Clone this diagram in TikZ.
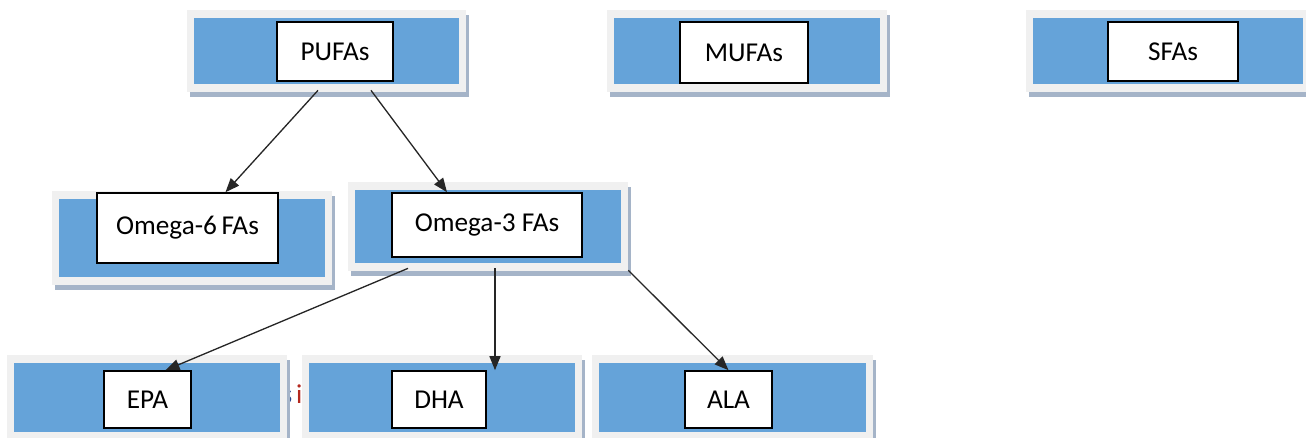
\documentclass[tikz,border=0pt]{standalone}
\usepackage{fontspec}
\setmainfont{Carlito}
\usepackage{tikz}
\usetikzlibrary{arrows.meta,calc,fit,shadows}
\definecolor{barblue}{RGB}{101,163,217}
\definecolor{framegray}{RGB}{240,240,240}
\definecolor{shadowgray}{RGB}{165,180,200}
\definecolor{sblue}{RGB}{40,70,140}
\definecolor{ired}{RGB}{180,40,30}
\tikzset{
  frame/.style={fill=framegray, draw=none, inner sep=0pt,
    drop shadow={shadow xshift=0.06cm, shadow yshift=-0.09cm, fill=shadowgray, opacity=1}},
  bluebar/.style={fill=barblue, draw=none, inner sep=0pt},
  labelbox/.style={fill=white, draw=black, line width=0.9pt, inner sep=0pt,
    font=\fontsize{15.5}{18}\selectfont},
  faarrow/.style={draw=black!85, line width=0.75pt, -{Triangle[length=0.28cm,width=0.22cm]}}
}
% frame with blue bar inside: name, x1, y1, x2, y2 (pixels)
\newcommand{\fagroup}[5]{
  \node[frame, fit={(#2,#3) (#4,#5)}] (#1) {};
  \node[bluebar, fit={({#2+7},{#3+8}) ({#4-7},{#5-8})}] (#1bar) {};
}
% white label box: name, x, y, width, height, text
\newcommand{\fabox}[6]{
  \node[labelbox, minimum width=#4*0.02cm, minimum height=#5*0.02cm] (#1) at (#2,#3) {#6};
}

\begin{document}
\begin{tikzpicture}[x=0.02cm,y=-0.02cm]
\useasboundingbox (0,0) rectangle (1306,437);
\node[font=\fontsize{15.5}{18}\selectfont, inner sep=0pt] (stray) at (292,394) {\textcolor{sblue}{s}\hspace{0.08cm}\textcolor{ired}{i}};
\fagroup{pufa}{187}{10}{466}{92}
\fagroup{mufa}{607}{10}{887}{92}
\fagroup{sfa}{1026}{10}{1310}{92}
\fagroup{omegasix}{52}{191}{332}{285}
\fagroup{omegathree}{348}{182}{628}{271}
\fagroup{epa}{7}{355}{287}{440}
\fagroup{dha}{302}{355}{582}{440}
\fagroup{ala}{592}{355}{873}{440}
\fabox{pufabox}{335}{51.5}{116}{59}{PUFAs}
\fabox{mufabox}{744}{52.5}{128}{61}{MUFAs}
\fabox{sfabox}{1173}{51.5}{130}{59}{SFAs}
\fabox{omegasixbox}{187.5}{228}{181}{70}{Omega-6\,FAs}
\fabox{omegathreebox}{487}{225}{190}{64}{Omega-3 FAs}
\fabox{epabox}{147.5}{399.5}{87}{57}{EPA}
\fabox{dhabox}{439}{399.5}{94}{57}{DHA}
\fabox{alabox}{728.5}{399.5}{87}{57}{ALA}
\draw[faarrow] ($(pufa.south)+(-8.5,-2)$) -- ($(omegasixbox.north)+(38,0)$);
\draw[faarrow] ($(pufa.south)+(44.5,-2)$) -- ($(omegathreebox.north)+(-40,0)$);
\draw[faarrow] ($(omegathree.south)+(-80,-3)$) -- ($(epabox.north)+(18,0)$);
\draw[faarrow] ($(omegathree.south)+(7,-3)$) -- ($(dhabox.north)+(56,0)$);
\draw[faarrow] ($(omegathree.south east)+(0,-1)$) -- (alabox.north);
\end{tikzpicture}
\end{document}
